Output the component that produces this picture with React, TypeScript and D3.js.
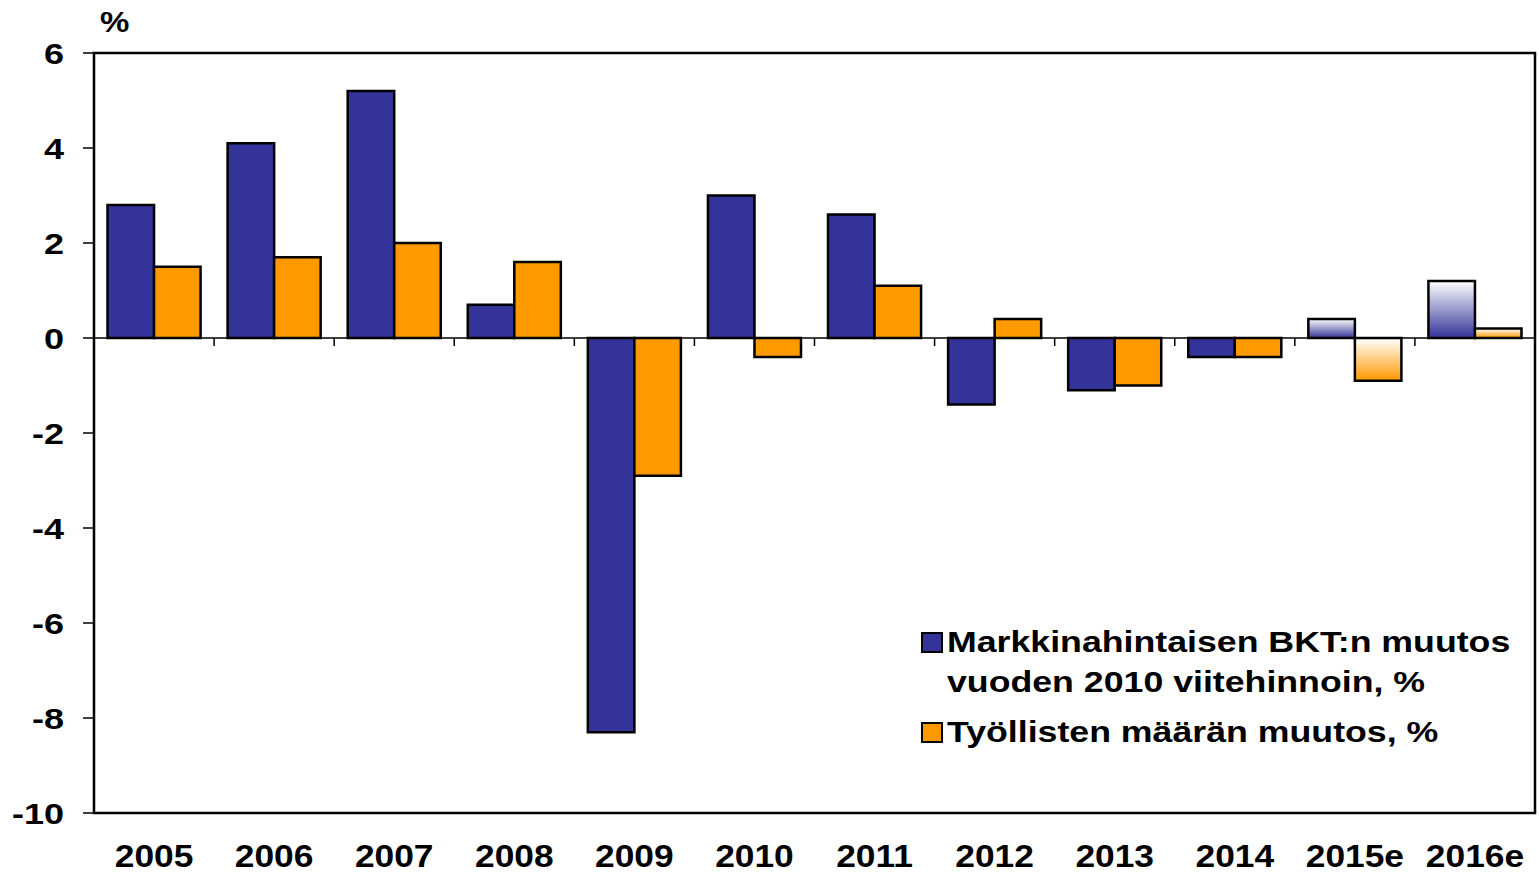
import React from "react";
import * as d3 from "d3";

const categories = ["2005", "2006", "2007", "2008", "2009", "2010", "2011", "2012", "2013", "2014", "2015e", "2016e"];
const gdpValues = [2.8, 4.1, 5.2, 0.7, -8.3, 3.0, 2.6, -1.4, -1.1, -0.4, 0.4, 1.2];
const employmentValues = [1.5, 1.7, 2.0, 1.6, -2.9, -0.4, 1.1, 0.4, -1.0, -0.4, -0.9, 0.2];
const estimated = ["2015e", "2016e"];
const yTicks = [-10, -8, -6, -4, -2, 0, 2, 4, 6];
const seriesNames = ["Markkinahintaisen BKT:n muutos", "vuoden 2010 viitehinnoin, %", "Työllisten määrän muutos, %"];

const BLUE = "#333399";
const ORANGE = "#FF9900";
const FONT = "'Liberation Sans', Arial, sans-serif";

function SText(props: { x: number; y: number; sx: number; size: number; anchor?: string; dy?: string; children: React.ReactNode }) {
  const { x, y, sx, size, anchor, dy, children } = props;
  return (
    <g transform={`translate(${x},${y}) scale(${sx},1)`}>
      <text x={0} y={0} dy={dy} textAnchor={anchor || "start"} fontSize={size}>{children}</text>
    </g>
  );
}

export default function App() {
  const W = 1539, H = 873;
  const left = 94, right = 1535, top = 53, bottom = 813;
  const x = d3.scaleBand<string>().domain(categories).range([left, right]).paddingInner(0.225).paddingOuter(0.1125);
  const y = d3.scaleLinear().domain([-10, 6]).range([bottom, top]);
  const bw = x.bandwidth() / 2;
  const y0 = y(0);
  const step = x.step();

  const bar = (v: number, cx: number, fill: string, key: string) => (
    <rect key={key} x={cx} width={bw} y={Math.min(y(v), y0)} height={Math.abs(y(v) - y0)}
      fill={fill} stroke="#000" strokeWidth={2.5} />
  );

  return (
    <svg width={W} height={H} style={{ position: "absolute", left: 0, top: 0, background: "#fff" }} fontFamily={FONT} fontWeight="bold">
      <defs>
        <linearGradient id="gBlue" x1="0" y1="0" x2="0" y2="1">
          <stop offset="0" stopColor="#ffffff" />
          <stop offset="1" stopColor={BLUE} />
        </linearGradient>
        <linearGradient id="gOrange" x1="0" y1="0" x2="0" y2="1">
          <stop offset="0" stopColor="#ffffff" />
          <stop offset="1" stopColor={ORANGE} />
        </linearGradient>
      </defs>
      <rect x={0} y={0} width={W} height={H} fill="#fff" />
      {categories.map((c, i) => {
        const est = estimated.includes(c);
        const bx = x(c)!;
        return (
          <g key={c}>
            {bar(gdpValues[i], bx, est ? "url(#gBlue)" : BLUE, c + "a")}
            {bar(employmentValues[i], bx + bw, est ? "url(#gOrange)" : ORANGE, c + "b")}
          </g>
        );
      })}
      <line x1={left} x2={right} y1={y0} y2={y0} stroke="#000" strokeWidth={1.5} />
      {d3.range(1, categories.length).map((i) => (
        <line key={i} x1={left + i * step} x2={left + i * step} y1={y0} y2={y0 + 8} stroke="#000" strokeWidth={1.5} />
      ))}
      <rect x={left} y={top} width={right - left} height={bottom - top} fill="none" stroke="#000" strokeWidth={2.5} />
      {yTicks.map((t) => (
        <g key={t}>
          <line x1={left - 11} x2={left} y1={y(t)} y2={y(t)} stroke="#000" strokeWidth={1.5} />
          <SText x={64} y={y(t)} dy="0.36em" anchor="end" size={30} sx={1.2}>{t}</SText>
        </g>
      ))}
      <SText x={100} y={32} size={30} sx={1.1}>%</SText>
      {categories.map((c) => (
        <SText key={c} x={x(c)! + x.bandwidth() / 2} y={867} anchor="middle" size={31} sx={1.14}>{c}</SText>
      ))}
      <rect x={922} y={633} width={20} height={19} fill={BLUE} stroke="#000" strokeWidth={2} />
      <SText x={947} y={652} size={30} sx={1.19}>{seriesNames[0]}</SText>
      <SText x={947} y={692} size={30} sx={1.19}>{seriesNames[1]}</SText>
      <rect x={922} y={723} width={20} height={19} fill={ORANGE} stroke="#000" strokeWidth={2} />
      <SText x={947} y={742} size={30} sx={1.19}>{seriesNames[2]}</SText>
    </svg>
  );
}
